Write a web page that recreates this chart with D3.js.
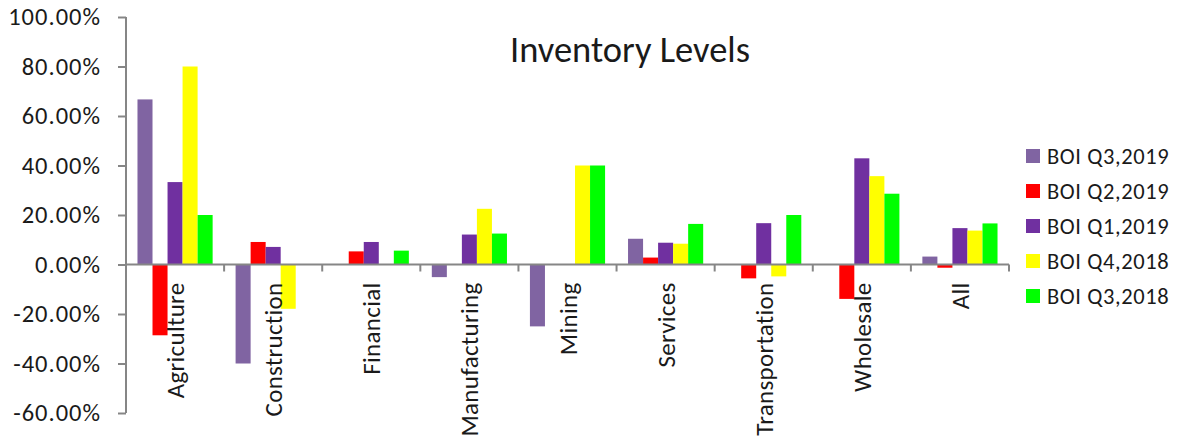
<!DOCTYPE html>
<html><head><meta charset="utf-8">
<script src="https://cdn.jsdelivr.net/npm/d3@7"></script>
<style>body{margin:0;background:#fff}svg{display:block}text{font-family:Carlito,Calibri,Lato,sans-serif;fill:#1a1a1a}</style>
</head><body><svg id="c" width="1177" height="441"></svg>
<script>
const categories = ["Agriculture","Construction","Financial","Manufacturing","Mining","Services","Transportation","Wholesale","All"];
const seriesNames = ["BOI Q3,2019","BOI Q2,2019","BOI Q1,2019","BOI Q4,2018","BOI Q3,2018"];
const seriesColors = ["#8064A2","#FF0000","#7030A0","#FFFF00","#00FF00"];
const q3_2019 = [0.667,-0.40,0,-0.051,-0.25,0.104,0,0,0.032];
const q2_2019 = [-0.286,0.091,0.053,0,0,0.028,-0.056,-0.139,-0.013];
const q1_2019 = [0.333,0.071,0.091,0.121,0,0.088,0.167,0.429,0.147];
const q4_2018 = [0.80,-0.179,0,0.225,0.40,0.084,-0.048,0.357,0.137];
const q3_2018 = [0.20,0,0.056,0.125,0.40,0.164,0.20,0.286,0.166];
const yTicks = [-0.6,-0.4,-0.2,0,0.2,0.4,0.6,0.8,1.0];
const seriesValues = [q3_2019,q2_2019,q1_2019,q4_2018,q3_2018];

const svg = d3.select("#c");
const pL=126, pR=1009, pT=17, pB=413;
const y = d3.scaleLinear().domain([-0.6,1.0]).range([pB,pT]);
const x0 = d3.scaleBand().domain(categories).range([pL,pR]).padding(0);
const bw = x0.bandwidth();
const x1 = d3.scaleBand().domain(seriesNames).range([bw*0.117, bw*0.883]).padding(0);

// bars
seriesNames.forEach((s,si)=>{
  const g = svg.append("g");
  g.selectAll("rect").data(categories.map((c,i)=>({c,v:seriesValues[si][i]})).filter(d=>d.v!==0))
   .join("rect")
   .attr("x",d=>x0(d.c)+x1(s))
   .attr("width",x1.bandwidth())
   .attr("y",d=>y(Math.max(0,d.v)))
   .attr("height",d=>Math.abs(y(d.v)-y(0)))
   .attr("fill",seriesColors[si]);
});

// y axis
const yAxis = d3.axisLeft(y).tickValues(yTicks).tickSize(8).tickPadding(17)
  .tickFormat(d=>(d*100).toFixed(2)+"%");
const ga = svg.append("g").attr("transform",`translate(${pL},0)`).call(yAxis);
ga.selectAll("path,line").attr("stroke","#868686").attr("stroke-width",2);
ga.select(".domain").attr("d",`M0,${pT}V${pB}`);
ga.selectAll("text").attr("font-size",24.5).attr("letter-spacing","1px")
  .attr("font-family","Carlito,Calibri,Lato,sans-serif").attr("fill","#1a1a1a");

// x axis at zero
const xAxisG = svg.append("g");
xAxisG.append("line").attr("x1",pL).attr("x2",pR).attr("y1",y(0)).attr("y2",y(0))
  .attr("stroke","#868686").attr("stroke-width",2);
const tickX = categories.map(c=>x0(c)+bw);
xAxisG.selectAll("line.t").data(tickX).join("line").attr("class","t")
  .attr("x1",d=>d).attr("x2",d=>d).attr("y1",y(0)).attr("y2",y(0)+7)
  .attr("stroke","#868686").attr("stroke-width",2);
xAxisG.selectAll("text").data(categories).join("text")
  .attr("transform",d=>`translate(${x0(d)+bw/2+9},${y(0)+18}) rotate(-90)`)
  .attr("text-anchor","end").attr("font-size",25).attr("letter-spacing","0.3px").text(d=>d);

// title
svg.append("text").attr("x",630).attr("y",62).attr("text-anchor","middle").attr("font-size",36.5).text("Inventory Levels");

// legend
const lg = svg.append("g");
seriesNames.forEach((s,i)=>{
  const yy = 156 + i*35;
  lg.append("rect").attr("x",1026).attr("y",yy-7).attr("width",14).attr("height",14).attr("fill",seriesColors[i]);
  lg.append("text").attr("x",1047).attr("y",yy+8).attr("font-size",22.5).attr("letter-spacing","0.6px").text(s);
});
</script></body></html>
